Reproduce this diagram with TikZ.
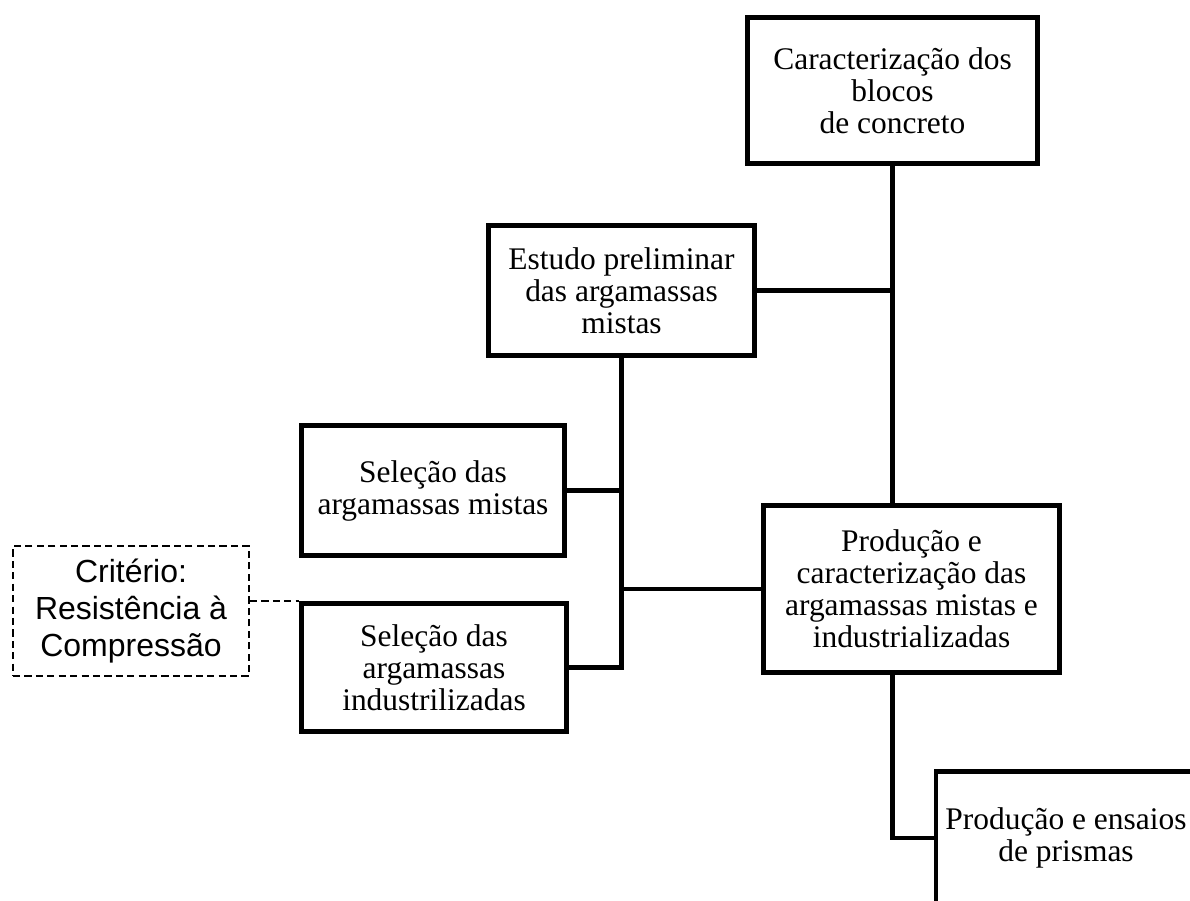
\documentclass[tikz,border=0pt]{standalone}
\usepackage{fontspec}
\setmainfont{Liberation Serif}
\newfontfamily\arialfont{Liberation Sans}
\begin{document}
\begin{tikzpicture}[
        box/.style={draw, line width=2.6pt, align=center, inner sep=0pt,
            font=\fontsize{17.9}{18.2}\selectfont},
        critbox/.style={draw, dash pattern=on 4.1pt off 2.4pt, line width=1.1pt,
            align=center, inner sep=0pt, font=\arialfont\fontsize{18.2}{20.8}\selectfont},
        link/.style={line width=2.3pt},
        critlink/.style={line width=1.1pt, dash pattern=on 4.1pt off 2.4pt}]
    \useasboundingbox (0,0) rectangle (23.8,-18);
    \clip (0,0) rectangle (23.8,-18);
        \node[box, minimum width=5.8cm, minimum height=2.92cm] (A) at (17.85,-1.81) {Caracterização dos\\blocos\\de concreto};
        \node[box, minimum width=5.32cm, minimum height=2.6cm] (B) at (12.43,-5.81) {Estudo preliminar\\das argamassas\\mistas};
        \node[box, minimum width=5.26cm, minimum height=2.6cm] (C) at (8.66,-9.81) {Seleção das\\argamassas mistas};
        \node[box, minimum width=5.3cm, minimum height=2.56cm] (D) at (8.68,-13.35) {Seleção das\\argamassas\\industrilizadas};
        \node[box, minimum width=5.92cm, minimum height=3.34cm] (E) at (18.23,-11.78) {Produção e\\caracterização das\\argamassas mistas e\\industrializadas};
        \node[box, minimum width=5.2cm, minimum height=2.66cm] (F) at (21.32,-16.76) {Produção e ensaios\\de prismas};
        \node[critbox, minimum width=4.72cm, minimum height=2.6cm] (G) at (2.62,-12.22) {Critério:\\Resistência à\\Compressão};
        \coordinate (K) at (E.south -| A.south);
        \draw[link] (A.south) -- (A.south |- E.north);
        \draw[link] (B.east) -- (B.east -| A.south);
        \draw[link] (B.south) |- (D.east);
        \draw[link] (C.east) -- (C.east -| B.south);
        \draw[link] (E.west) -- (E.west -| B.south);
        \draw[link] (K) |- (F.west);
        \draw[critlink] (G.east |- D.north west) -- (D.north west);
    \end{tikzpicture}
\end{document}
